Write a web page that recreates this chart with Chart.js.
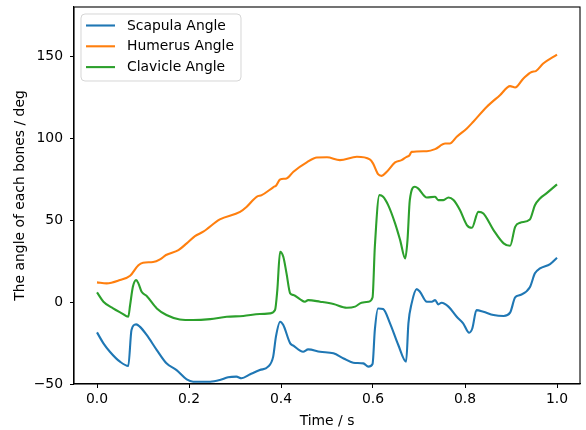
<!DOCTYPE html>
<html>
<head>
<meta charset="utf-8">
<script src="https://cdn.jsdelivr.net/npm/chart.js@4"></script>
<style>
  html, body { margin: 0; padding: 0; background: #fff; }
  #wrap { width: 586px; height: 430px; }
</style>
</head>
<body>
<div id="wrap"><canvas id="angleChart" width="586" height="430"></canvas></div>
<script>
// values (time in s, angle in deg)
const seriesNames = ['Scapula Angle', 'Humerus Angle', 'Clavicle Angle'];
const seriesColors = ['#1f77b4', '#ff7f0e', '#2ca02c'];

const scapulaT = [0, 0.014, 0.028, 0.05, 0.068, 0.075, 0.085, 0.093, 0.108, 0.13, 0.151, 0.173, 0.195, 0.209, 0.246, 0.267, 0.285, 0.303, 0.314, 0.333, 0.354, 0.372, 0.383, 0.389, 0.398, 0.405, 0.42, 0.427, 0.448, 0.459, 0.485, 0.514, 0.536, 0.557, 0.579, 0.59, 0.599, 0.604, 0.611, 0.622, 0.637, 0.655, 0.672, 0.677, 0.684, 0.695, 0.702, 0.717, 0.728, 0.735, 0.742, 0.749, 0.764, 0.782, 0.796, 0.809, 0.816, 0.825, 0.84, 0.862, 0.884, 0.898, 0.909, 0.92, 0.941, 0.952, 0.963, 0.985, 1.0];
const scapulaY = [-18.5, -25.2, -30.3, -36.4, -39, -17, -13.6, -15, -20.1, -29.3, -37.4, -41.5, -47.2, -48.6, -48.6, -47.6, -45.9, -45.5, -46.5, -44.1, -41.5, -39.4, -33.3, -21.1, -12, -14, -25.2, -26.6, -30.3, -28.9, -30.3, -31.3, -34.4, -37, -37.4, -39.4, -37.8, -17, -3.9, -4.3, -13, -26.2, -36.4, -13, -0.8, 7.9, 6.3, 0.2, 0.2, 1.2, -1.4, -0.4, -2.8, -9, -13, -18.7, -16, -4.9, -5.9, -7.9, -8.5, -6.5, 2.8, 4.3, 9, 17.5, 20.5, 23.2, 27];

const humerusT = [0, 0.021, 0.05, 0.072, 0.09, 0.1, 0.122, 0.137, 0.15, 0.177, 0.195, 0.213, 0.231, 0.267, 0.311, 0.325, 0.347, 0.358, 0.383, 0.39, 0.398, 0.412, 0.427, 0.456, 0.478, 0.5, 0.528, 0.565, 0.593, 0.6, 0.611, 0.619, 0.63, 0.648, 0.662, 0.673, 0.679, 0.684, 0.717, 0.735, 0.757, 0.767, 0.782, 0.804, 0.818, 0.847, 0.876, 0.898, 0.909, 0.927, 0.945, 0.954, 0.97, 1.0];
const humerusY = [12, 11.4, 13.4, 16, 22.5, 24, 24.4, 26, 28.7, 31.7, 35.8, 40.2, 42.9, 50.4, 55, 58, 64.2, 65.2, 70, 71.3, 74.8, 75.4, 79.5, 85.2, 88.2, 88.3, 86.6, 88.6, 87, 84.6, 78, 77, 79.5, 85.2, 86.6, 88.6, 89.4, 91.6, 92, 93.3, 96.7, 96.7, 100.8, 105.9, 110, 119, 126.2, 131.7, 130.9, 136.4, 140.4, 140.9, 145.5, 151];

const clavicleT = [0, 0.014, 0.035, 0.054, 0.068, 0.072, 0.078, 0.085, 0.09, 0.097, 0.108, 0.13, 0.151, 0.18, 0.209, 0.246, 0.282, 0.318, 0.354, 0.376, 0.387, 0.392, 0.398, 0.405, 0.412, 0.42, 0.427, 0.441, 0.452, 0.459, 0.485, 0.514, 0.543, 0.561, 0.575, 0.59, 0.599, 0.604, 0.614, 0.622, 0.633, 0.648, 0.659, 0.67, 0.675, 0.68, 0.691, 0.698, 0.717, 0.735, 0.742, 0.753, 0.764, 0.775, 0.789, 0.804, 0.815, 0.829, 0.84, 0.862, 0.884, 0.898, 0.909, 0.92, 0.941, 0.952, 0.963, 0.977, 1.0];
const clavicleY = [5.9, 0.2, -3.9, -6.9, -9, -1.8, 9.3, 13.4, 11.4, 6.3, 3.7, -3.9, -7.9, -10.6, -11, -10.4, -9, -8.5, -7.3, -6.9, -4.9, 7.3, 30.7, 27.6, 17.5, 5.3, 4.3, 1.8, 0.2, 1.2, 0.2, -1.2, -3.5, -2.8, -0.4, 0.2, 2.8, 33.7, 65.2, 64.2, 59.1, 48, 37.8, 26.6, 37.8, 62.2, 70.3, 69.3, 63.8, 64.2, 62.2, 62.2, 63.8, 62.2, 56.1, 47, 45.3, 55, 54, 43.9, 35.8, 34.3, 45.9, 48.4, 50.4, 59.1, 63.2, 66.3, 71.8];

const xTicks = [0, 0.2, 0.4, 0.6, 0.8, 1.0];
const yTicks = [-50, 0, 50, 100, 150];

const FONT = 'DejaVu Sans';
const FS = 13.9;

function toPoints(ts, ys) { return ts.map((t, i) => ({ x: t, y: ys[i] })); }

const seriesData = [toPoints(scapulaT, scapulaY), toPoints(humerusT, humerusY), toPoints(clavicleT, clavicleY)];

// frame on all four sides, like matplotlib spines
const framePlugin = {
  id: 'frame',
  afterDraw(chart) {
    const { ctx, chartArea: a } = chart;
    ctx.save();
    ctx.strokeStyle = '#000';
    ctx.lineWidth = 1.1;
    ctx.strokeRect(a.left, a.top, a.right - a.left, a.bottom - a.top);
    ctx.restore();
  }
};

// legend box inside the upper left corner
const innerLegend = {
  id: 'innerLegend',
  afterDraw(chart) {
    const { ctx, chartArea: a } = chart;
    const left = a.left + 7, top = a.top + 7, w = 160, h = 67, r = 4;
    ctx.save();
    ctx.beginPath();
    ctx.roundRect(left, top, w, h, r);
    ctx.fillStyle = 'rgba(255,255,255,0.8)';
    ctx.fill();
    ctx.strokeStyle = 'rgba(204,204,204,0.8)';
    ctx.lineWidth = 1;
    ctx.stroke();
    ctx.font = FS + 'px "' + FONT + '"';
    ctx.textBaseline = 'middle';
    seriesNames.forEach((name, i) => {
      const y = top + 11.5 + i * 20.8;
      ctx.strokeStyle = seriesColors[i];
      ctx.lineWidth = 2.1;
      ctx.beginPath();
      ctx.moveTo(left + 5, y);
      ctx.lineTo(left + 34, y);
      ctx.stroke();
      ctx.fillStyle = '#000';
      ctx.fillText(name, left + 46, y + 0.5);
    });
    ctx.restore();
  }
};

new Chart(document.getElementById('angleChart').getContext('2d'), {
  type: 'line',
  data: {
    datasets: seriesNames.map((name, i) => ({
      label: name,
      data: seriesData[i],
      borderColor: seriesColors[i],
      borderWidth: 2.1,
      pointRadius: 0,
      fill: false,
      cubicInterpolationMode: 'monotone'
    }))
  },
  options: {
    responsive: false,
    animation: false,
    layout: { padding: { left: 0, top: 7, right: 6, bottom: 0 } },
    plugins: { legend: { display: false }, tooltip: { enabled: false } },
    scales: {
      x: {
        type: 'linear',
        min: -0.05, max: 1.05,
        afterBuildTicks(axis) { axis.ticks = xTicks.map(v => ({ value: v })); },
        afterFit(axis) { axis.height = 46; axis.paddingLeft = 0; axis.paddingRight = 0; },
        grid: { display: true, drawOnChartArea: false, drawTicks: true, tickLength: 4, color: '#000', tickWidth: 1 },
        border: { display: true, color: '#000', width: 1.1 },
        ticks: { color: '#000', font: { family: FONT, size: FS }, padding: 3, maxRotation: 0,
          callback: v => v.toFixed(1) },
        title: { display: true, text: 'Time / s', color: '#000', font: { family: FONT, size: FS }, padding: { top: 0, bottom: 0 } }
      },
      y: {
        min: -50, max: 180,
        afterBuildTicks(axis) { axis.ticks = yTicks.map(v => ({ value: v })); },
        afterFit(axis) { axis.width = 74; axis.paddingTop = 0; axis.paddingBottom = 0; },
        grid: { display: true, drawOnChartArea: false, drawTicks: true, tickLength: 4, color: '#000', tickWidth: 1 },
        border: { display: true, color: '#000', width: 1.1 },
        ticks: { color: '#000', font: { family: FONT, size: FS }, padding: 7,
          callback: v => String(v).replace('-', '\u2212') },
        title: { display: true, text: 'The angle of each bones / deg', color: '#000', font: { family: FONT, size: FS }, padding: { top: 12, bottom: 0 } }
      }
    }
  },
  plugins: [framePlugin, innerLegend]
});
</script>
</body>
</html>
